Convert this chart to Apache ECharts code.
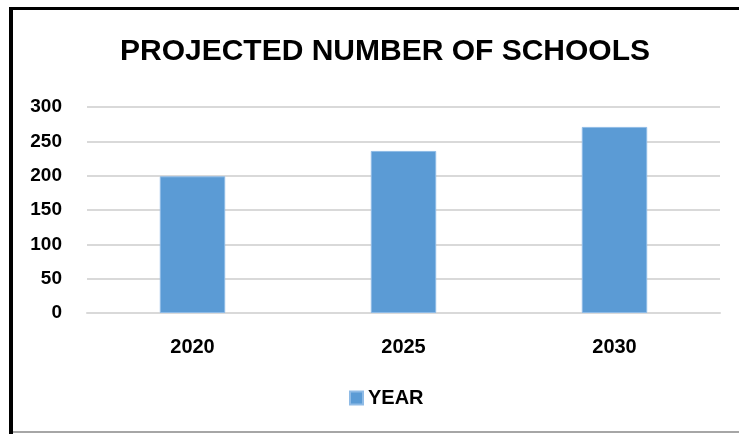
<!DOCTYPE html>
<html>
<head>
<meta charset="utf-8">
<script src="https://cdn.jsdelivr.net/npm/echarts@6/dist/echarts.min.js"></script>
<style>
  html, body { margin: 0; padding: 0; background: #fff; }
  #chart { width: 739px; height: 434px; }
</style>
</head>
<body>
<div id="chart"></div>
<script>
// Projected number of schools by year
const years = ['2020', '2025', '2030'];
const schools = [199, 236, 271];
const seriesName = 'YEAR';
const chartTitle = 'PROJECTED NUMBER OF SCHOOLS';

const font = '"Liberation Sans", Arial, sans-serif';
const chart = echarts.init(document.getElementById('chart'), null, { renderer: 'canvas' });

chart.setOption({
  animation: false,
  backgroundColor: '#ffffff',
  graphic: [
    // frame: heavy left/top edges, thin grey bottom edge
    { type: 'rect', shape: { x: 9, y: 7, width: 730, height: 3 }, style: { fill: '#000' } },
    { type: 'rect', shape: { x: 9, y: 7, width: 4, height: 427 }, style: { fill: '#000' } },
    { type: 'rect', shape: { x: 13, y: 431, width: 726, height: 2 }, style: { fill: '#a6a6a6' } }
  ],
  title: {
    text: chartTitle,
    left: 115,
    top: 32,
    textStyle: { fontFamily: font, fontWeight: 'bold', fontSize: 30, color: '#000' }
  },
  legend: {
    data: [seriesName],
    left: 344,
    top: 383,
    itemWidth: 13,
    itemHeight: 13,
    icon: 'rect',
    itemGap: 6,
    textStyle: { fontFamily: font, fontWeight: 'bold', fontSize: 20, color: '#000' }
  },
  grid: { left: 87, right: 19, top: 107, bottom: 121, containLabel: false },
  xAxis: {
    type: 'category',
    data: years,
    axisLine: { show: true, lineStyle: { color: '#d9d9d9', width: 2 } },
    axisTick: { show: false },
    axisLabel: { margin: 24, fontFamily: font, fontWeight: 'bold', fontSize: 20, color: '#000' }
  },
  yAxis: {
    type: 'value',
    min: 0,
    max: 300,
    interval: 50,
    axisLine: { show: false },
    axisTick: { show: false },
    splitLine: { lineStyle: { color: '#d9d9d9', width: 2 } },
    axisLabel: { margin: 25, fontFamily: font, fontWeight: 'bold', fontSize: 19, color: '#000' }
  },
  series: [{
    name: seriesName,
    type: 'bar',
    data: schools,
    barWidth: '31%',
    itemStyle: { color: '#5b9bd5', borderColor: '#8fbbe6', borderWidth: 1 }
  }]
});
</script>
</body>
</html>
